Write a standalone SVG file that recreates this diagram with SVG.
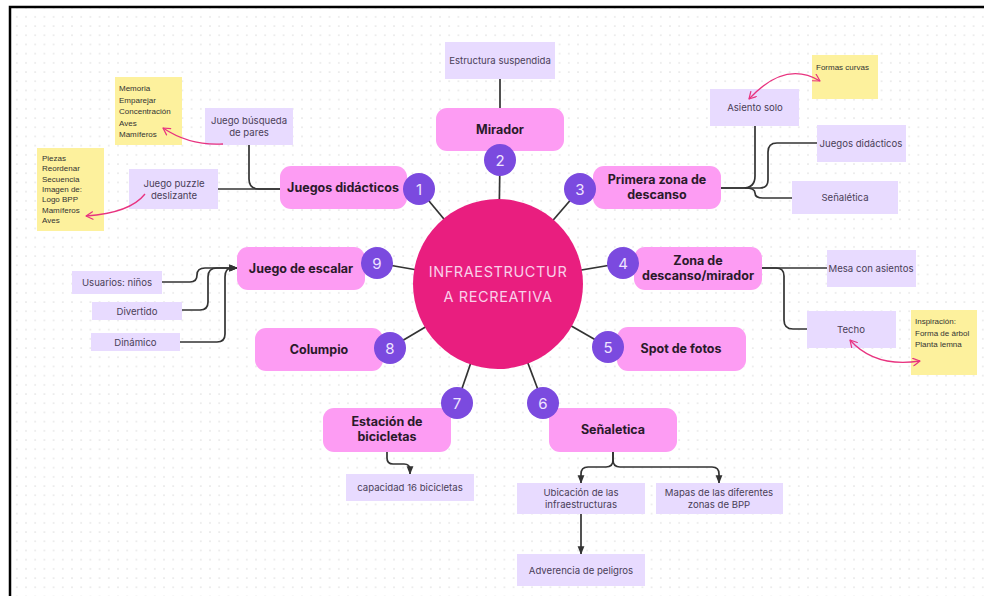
<svg xmlns="http://www.w3.org/2000/svg" width="984" height="596" viewBox="0 0 984 596">
<defs>
<pattern id="dots" x="3" y="3" width="9.2" height="9.2" patternUnits="userSpaceOnUse">
<circle cx="4.6" cy="4.6" r="0.8" fill="#dcdcdc"/>
</pattern>
<marker id="ah" viewBox="0 0 10 10" refX="9" refY="5" markerWidth="5" markerHeight="5" orient="auto-start-reverse">
<path d="M0,1 L10,5 L0,9 z" fill="#333"/>
</marker>
<marker id="pa" viewBox="0 0 12 12" refX="10" refY="6" markerWidth="9" markerHeight="9" orient="auto-start-reverse" markerUnits="userSpaceOnUse">
<path d="M1,1 L10,6 L1,11" fill="none" stroke="#e8337f" stroke-width="1.6" stroke-linecap="round" stroke-linejoin="round"/>
</marker>
<style>
.main{fill:#fd9cf3;}
.mt{font-family:Inter,"Noto Sans",sans-serif;font-weight:700;font-size:12.5px;fill:#2a1a2a;text-anchor:middle;}
.num{fill:#7b4adf;}
.nt{font-family:Inter,"Noto Sans",sans-serif;font-size:15px;fill:#efe4ff;text-anchor:middle;}
.sub{fill:#e8dbff;}
.st{font-family:Inter,"Noto Sans",sans-serif;font-size:9.6px;fill:#4a4058;text-anchor:middle;}
.note{fill:#fdf19d;}
.ntx{font-family:"Liberation Sans",Arial,sans-serif;font-size:8px;fill:#333;}
.ln{fill:none;stroke:#333;stroke-width:1.7;}
.pk{fill:none;stroke:#e8337f;stroke-width:1.3;}
</style>
</defs>
<rect x="0" y="0" width="984" height="596" fill="#fff"/>
<rect x="10" y="7" width="990" height="600" fill="url(#dots)"/>
<rect x="10" y="7" width="990" height="600" fill="none" stroke="#000" stroke-width="2.5"/>

<g id="connectors">
<line class="ln" x1="419" y1="189" x2="498" y2="284"/>
<line class="ln" x1="500" y1="160" x2="498" y2="284"/>
<line class="ln" x1="580" y1="189" x2="498" y2="284"/>
<line class="ln" x1="623" y1="263" x2="498" y2="284"/>
<line class="ln" x1="608" y1="347" x2="498" y2="284"/>
<line class="ln" x1="543" y1="403" x2="498" y2="284"/>
<line class="ln" x1="457" y1="403" x2="498" y2="284"/>
<line class="ln" x1="390" y1="348" x2="498" y2="284"/>
<line class="ln" x1="377" y1="263" x2="498" y2="284"/>
<line class="ln" x1="500" y1="79" x2="500" y2="108"/>
<path class="ln" d="M280,189 H218"/>
<path class="ln" d="M249,145 V179 Q249,189 259,189 H280"/>
<path class="ln" d="M721,188 H743 Q755,188 755,176 V126"/>
<path class="ln" d="M721,188 H760 Q768,188 768,180 V152 Q768,143 777,143 H817"/>
<path class="ln" d="M745,188 Q755,188 755,193 Q755,198 763,198 H792"/>
<path class="ln" d="M762,268 H827"/>
<path class="ln" d="M762,268 H776 Q784,268 784,276 V320 Q784,329 793,329 H807"/>
<path class="ln" d="M162,282 H190 Q197,282 197,275 Q197,268 205,268 H237" marker-end="url(#ah)"/>
<path class="ln" d="M182,310 H200 Q208,310 208,302 V277 Q208,268 217,268 H237" marker-end="url(#ah)"/>
<path class="ln" d="M180,342 H217 Q225,342 225,334 V277 Q225,268 232,268 H237" marker-end="url(#ah)"/>
<path class="ln" d="M387,452 V458 Q387,464 393,464 H404 Q410,464 410,470 V474" marker-end="url(#ah)"/>
<path class="ln" d="M613,452 V460 Q613,467 606,467 H588 Q581,467 581,474 V483" marker-end="url(#ah)"/>
<path class="ln" d="M613,452 V460 Q613,467 620,467 H712 Q719,467 719,474 V483" marker-end="url(#ah)"/>
<path class="ln" d="M581,514 V554" marker-end="url(#ah)"/>
</g>

<g id="center">
<circle cx="498" cy="284" r="85" fill="#e91e7f"/>
<text x="498" y="277" font-family="Inter,'Noto Sans',sans-serif" font-size="14.5" fill="#f9d0ea" text-anchor="middle" letter-spacing="0.6">INFRAESTRUCTUR</text>
<text x="498" y="302" font-family="Inter,'Noto Sans',sans-serif" font-size="14.5" fill="#f9d0ea" text-anchor="middle" letter-spacing="0.6">A RECREATIVA</text>
</g>

<g id="n1">
<rect class="main" x="280" y="166" width="127" height="43" rx="11"/>
<text class="mt" x="343" y="192">Juegos didácticos</text>
<circle class="num" cx="419" cy="189" r="16"/>
<text class="nt" x="419" y="194.5">1</text>
</g>
<g id="n2">
<rect class="main" x="436" y="108" width="128" height="43" rx="11"/>
<text class="mt" x="500" y="134">Mirador</text>
<circle class="num" cx="500" cy="160" r="16"/>
<text class="nt" x="500" y="165.5">2</text>
</g>
<g id="n3">
<rect class="main" x="593" y="166" width="128" height="43" rx="11"/>
<text class="mt" x="657" y="184">Primera zona de</text>
<text class="mt" x="657" y="199">descanso</text>
<circle class="num" cx="580" cy="189" r="16"/>
<text class="nt" x="580" y="194.5">3</text>
</g>
<g id="n4">
<rect class="main" x="634" y="247" width="128" height="43" rx="11"/>
<text class="mt" x="698" y="265">Zona de</text>
<text class="mt" x="698" y="280">descanso/mirador</text>
<circle class="num" cx="623" cy="263" r="16"/>
<text class="nt" x="623" y="268.5">4</text>
</g>
<g id="n5">
<rect class="main" x="617" y="327" width="129" height="44" rx="11"/>
<text class="mt" x="681" y="353">Spot de fotos</text>
<circle class="num" cx="608" cy="347" r="16"/>
<text class="nt" x="608" y="352.5">5</text>
</g>
<g id="n6">
<rect class="main" x="549" y="408" width="128" height="44" rx="11"/>
<text class="mt" x="613" y="434">Señaletica</text>
<circle class="num" cx="543" cy="403" r="16"/>
<text class="nt" x="543" y="408.5">6</text>
</g>
<g id="n7">
<rect class="main" x="323" y="408" width="128" height="44" rx="11"/>
<text class="mt" x="387" y="426">Estación de</text>
<text class="mt" x="387" y="441">bicicletas</text>
<circle class="num" cx="457" cy="403" r="16"/>
<text class="nt" x="457" y="408.5">7</text>
</g>
<g id="n8">
<rect class="main" x="255" y="328" width="128" height="43" rx="11"/>
<text class="mt" x="319" y="354">Columpio</text>
<circle class="num" cx="390" cy="348" r="16"/>
<text class="nt" x="390" y="353.5">8</text>
</g>
<g id="n9">
<rect class="main" x="237" y="247" width="128" height="43" rx="11"/>
<text class="mt" x="301" y="273">Juego de escalar</text>
<circle class="num" cx="377" cy="263" r="16"/>
<text class="nt" x="377" y="268.5">9</text>
</g>

<g id="s-estructura"><rect class="sub" x="445" y="42" width="110" height="37"/><text class="st" x="500" y="64">Estructura suspendida</text></g>
<g id="s-busqueda"><rect class="sub" x="205" y="108" width="88" height="37"/><text class="st" x="249" y="124">Juego búsqueda</text><text class="st" x="249" y="136">de pares</text></g>
<g id="s-puzzle"><rect class="sub" x="129" y="169" width="89" height="40"/><text class="st" x="174" y="187">Juego puzzle</text><text class="st" x="174" y="199">deslizante</text></g>
<g id="s-asiento"><rect class="sub" x="710" y="89" width="89" height="37"/><text class="st" x="755" y="111">Asiento solo</text></g>
<g id="s-juegos"><rect class="sub" x="817" y="125" width="89" height="37"/><text class="st" x="861" y="147">Juegos didácticos</text></g>
<g id="s-senal"><rect class="sub" x="792" y="181" width="106" height="33"/><text class="st" x="845" y="201">Señalética</text></g>
<g id="s-mesa"><rect class="sub" x="827" y="250" width="89" height="37"/><text class="st" x="871" y="272">Mesa con asientos</text></g>
<g id="s-techo"><rect class="sub" x="807" y="311" width="89" height="37"/><text class="st" x="851" y="333">Techo</text></g>
<g id="s-usuarios"><rect class="sub" x="72" y="271" width="90" height="23"/><text class="st" x="117" y="286">Usuarios: niños</text></g>
<g id="s-divertido"><rect class="sub" x="92" y="302" width="90" height="18"/><text class="st" x="137" y="314.5">Divertido</text></g>
<g id="s-dinamico"><rect class="sub" x="91" y="333" width="89" height="18"/><text class="st" x="135.5" y="345.5">Dinámico</text></g>
<g id="s-capacidad"><rect class="sub" x="346" y="474" width="128" height="27"/><text class="st" x="410" y="491">capacidad 16 bicicletas</text></g>
<g id="s-ubicacion"><rect class="sub" x="517" y="483" width="128" height="31"/><text class="st" x="581" y="496">Ubicación de las</text><text class="st" x="581" y="508">infraestructuras</text></g>
<g id="s-mapas"><rect class="sub" x="656" y="483" width="127" height="31"/><text class="st" x="719" y="496">Mapas de las diferentes</text><text class="st" x="719" y="508">zonas de BPP</text></g>
<g id="s-adverencia"><rect class="sub" x="517" y="554" width="128" height="32"/><text class="st" x="581" y="574">Adverencia de peligros</text></g>

<g id="note-memoria"><rect class="note" x="115" y="77" width="67" height="68"/>
<text class="ntx" x="119" y="91">Memoria</text><text class="ntx" x="119" y="102.5">Emparejar</text><text class="ntx" x="119" y="114">Concentración</text><text class="ntx" x="119" y="125.5">Aves</text><text class="ntx" x="119" y="137">Mamíferos</text></g>
<g id="note-piezas"><rect class="note" x="37" y="148" width="67" height="83"/>
<text class="ntx" x="42" y="161">Piezas</text><text class="ntx" x="42" y="171.3">Reordenar</text><text class="ntx" x="42" y="181.6">Secuencia</text><text class="ntx" x="42" y="192">Imagen de:</text><text class="ntx" x="42" y="202.3">Logo BPP</text><text class="ntx" x="42" y="212.6">Mamíferos</text><text class="ntx" x="42" y="223">Aves</text></g>
<g id="note-formas"><rect class="note" x="812" y="55" width="66" height="44"/><text class="ntx" x="816" y="70">Formas curvas</text></g>
<g id="note-inspiracion"><rect class="note" x="911" y="310" width="66" height="65"/>
<text class="ntx" x="915" y="324">Inspiración:</text><text class="ntx" x="915" y="335.5">Forma de árbol</text><text class="ntx" x="915" y="347">Planta lemna</text></g>

<g id="note-arrows">
<path class="pk" d="M223,144 Q190,146 163,128" marker-end="url(#pa)"/>
<path class="pk" d="M145,194 Q130,213 86,216" marker-end="url(#pa)"/>
<path class="pk" d="M749,99 Q785,60 820,81" marker-start="url(#pa)" marker-end="url(#pa)"/>
<path class="pk" d="M850,340 Q875,368 920,361" marker-start="url(#pa)" marker-end="url(#pa)"/>
</g>
</svg>
